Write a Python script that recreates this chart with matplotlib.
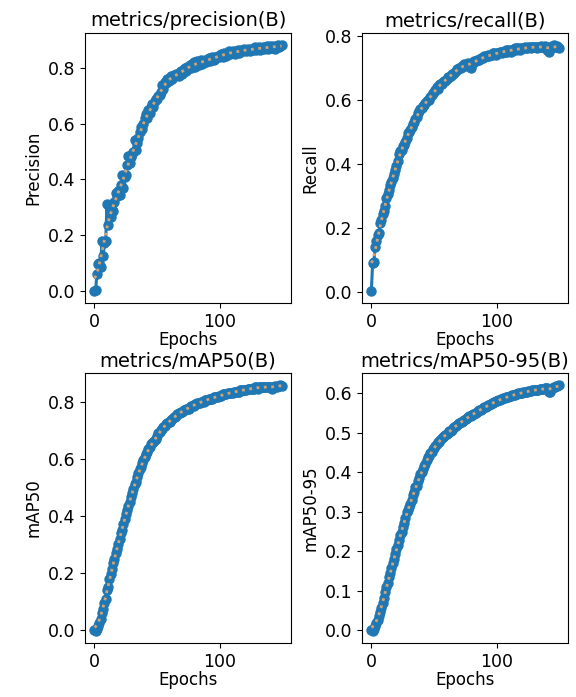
import numpy as np
import matplotlib
matplotlib.use('Agg')
import matplotlib.pyplot as plt

# Adatok, epoch 0..149
epochs = list(range(150))

precision = [
    0.000, 0.002, 0.060, 0.095, 0.100, 0.085, 0.180, 0.125, 0.170, 0.180,
    0.310, 0.235, 0.305, 0.265, 0.290, 0.285, 0.320, 0.350, 0.340, 0.360,
    0.345, 0.380, 0.415, 0.370, 0.410, 0.415, 0.450, 0.485, 0.460, 0.480,
    0.490, 0.500, 0.540, 0.505, 0.530, 0.550, 0.570, 0.590, 0.580, 0.600,
    0.620, 0.635, 0.620, 0.650, 0.640, 0.660, 0.670, 0.660, 0.680, 0.690,
    0.690, 0.700, 0.705, 0.715, 0.740, 0.725, 0.750, 0.745, 0.760, 0.755,
    0.765, 0.770, 0.760, 0.775, 0.770, 0.780, 0.775, 0.770, 0.785, 0.790,
    0.780, 0.795, 0.800, 0.790, 0.805, 0.800, 0.810, 0.800, 0.815, 0.820,
    0.805, 0.815, 0.825, 0.810, 0.820, 0.830, 0.815, 0.825, 0.830, 0.820,
    0.830, 0.835, 0.825, 0.835, 0.840, 0.830, 0.840, 0.835, 0.845, 0.840,
    0.845, 0.850, 0.840, 0.855, 0.850, 0.845, 0.855, 0.860, 0.850, 0.855,
    0.860, 0.855, 0.850, 0.860, 0.865, 0.855, 0.860, 0.865, 0.860, 0.870,
    0.865, 0.860, 0.870, 0.865, 0.860, 0.870, 0.865, 0.870, 0.875, 0.865,
    0.870, 0.875, 0.865, 0.870, 0.875, 0.870, 0.875, 0.878, 0.870, 0.875,
    0.878, 0.872, 0.880, 0.876, 0.870, 0.878, 0.882, 0.876, 0.880, 0.882,
]

recall = [
    0.005, 0.090, 0.095, 0.140, 0.160, 0.180, 0.185, 0.215, 0.225, 0.245,
    0.255, 0.270, 0.295, 0.305, 0.320, 0.335, 0.345, 0.355, 0.370, 0.380,
    0.395, 0.410, 0.430, 0.440, 0.445, 0.455, 0.460, 0.470, 0.480, 0.495,
    0.500, 0.505, 0.515, 0.525, 0.530, 0.540, 0.545, 0.560, 0.565, 0.570,
    0.575, 0.580, 0.585, 0.590, 0.595, 0.600, 0.600, 0.610, 0.615, 0.620,
    0.625, 0.630, 0.640, 0.635, 0.645, 0.650, 0.650, 0.655, 0.660, 0.660,
    0.665, 0.670, 0.670, 0.675, 0.680, 0.680, 0.685, 0.690, 0.695, 0.695,
    0.700, 0.700, 0.705, 0.705, 0.710, 0.705, 0.710, 0.715, 0.710, 0.700,
    0.715, 0.715, 0.720, 0.720, 0.725, 0.725, 0.725, 0.730, 0.730, 0.730,
    0.735, 0.735, 0.735, 0.740, 0.735, 0.740, 0.740, 0.745, 0.745, 0.740,
    0.745, 0.745, 0.750, 0.750, 0.745, 0.750, 0.750, 0.755, 0.750, 0.755,
    0.755, 0.750, 0.755, 0.755, 0.760, 0.755, 0.760, 0.760, 0.755, 0.760,
    0.760, 0.760, 0.765, 0.760, 0.760, 0.765, 0.765, 0.760, 0.765, 0.765,
    0.765, 0.765, 0.760, 0.765, 0.765, 0.768, 0.765, 0.765, 0.768, 0.765,
    0.755, 0.750, 0.760, 0.765, 0.768, 0.770, 0.765, 0.765, 0.768, 0.762,
]

map50 = [
    0.000, -0.002, 0.005, 0.015, 0.025, 0.040, 0.060, 0.075, 0.095, 0.110,
    0.140, 0.150, 0.180, 0.195, 0.215, 0.235, 0.250, 0.270, 0.285, 0.300,
    0.320, 0.340, 0.350, 0.370, 0.390, 0.405, 0.420, 0.435, 0.450, 0.465,
    0.480, 0.495, 0.510, 0.520, 0.535, 0.550, 0.565, 0.570, 0.585, 0.595,
    0.605, 0.615, 0.625, 0.635, 0.640, 0.650, 0.655, 0.660, 0.665, 0.670,
    0.680, 0.690, 0.695, 0.700, 0.705, 0.710, 0.715, 0.720, 0.725, 0.730,
    0.730, 0.735, 0.740, 0.745, 0.745, 0.750, 0.755, 0.760, 0.760, 0.765,
    0.765, 0.770, 0.770, 0.775, 0.775, 0.775, 0.780, 0.785, 0.785, 0.785,
    0.790, 0.790, 0.795, 0.795, 0.795, 0.800, 0.800, 0.800, 0.805, 0.805,
    0.805, 0.810, 0.810, 0.810, 0.810, 0.815, 0.815, 0.815, 0.815, 0.820,
    0.820, 0.820, 0.825, 0.825, 0.825, 0.825, 0.830, 0.830, 0.830, 0.830,
    0.830, 0.835, 0.835, 0.835, 0.835, 0.835, 0.840, 0.840, 0.840, 0.840,
    0.840, 0.840, 0.845, 0.845, 0.845, 0.845, 0.845, 0.845, 0.850, 0.850,
    0.845, 0.850, 0.850, 0.850, 0.850, 0.850, 0.850, 0.852, 0.850, 0.852,
    0.852, 0.845, 0.850, 0.852, 0.855, 0.852, 0.855, 0.855, 0.857, 0.856,
]

map50_95 = [
    0.000, -0.002, 0.003, 0.010, 0.018, 0.026, 0.035, 0.045, 0.055, 0.068,
    0.082, 0.095, 0.108, 0.120, 0.135, 0.145, 0.158, 0.170, 0.180, 0.192,
    0.205, 0.215, 0.228, 0.240, 0.248, 0.262, 0.272, 0.285, 0.298, 0.305,
    0.312, 0.320, 0.330, 0.342, 0.350, 0.362, 0.366, 0.378, 0.385, 0.395,
    0.400, 0.408, 0.415, 0.422, 0.430, 0.438, 0.442, 0.448, 0.452, 0.458,
    0.462, 0.468, 0.472, 0.476, 0.478, 0.482, 0.486, 0.490, 0.492, 0.495,
    0.497, 0.500, 0.504, 0.506, 0.508, 0.512, 0.515, 0.518, 0.520, 0.522,
    0.524, 0.527, 0.528, 0.530, 0.533, 0.536, 0.538, 0.540, 0.542, 0.544,
    0.546, 0.548, 0.549, 0.551, 0.554, 0.556, 0.558, 0.559, 0.561, 0.563,
    0.565, 0.566, 0.568, 0.570, 0.572, 0.573, 0.575, 0.577, 0.578, 0.580,
    0.581, 0.583, 0.584, 0.585, 0.586, 0.588, 0.589, 0.590, 0.591, 0.592,
    0.593, 0.594, 0.595, 0.596, 0.597, 0.598, 0.599, 0.600, 0.600, 0.601,
    0.602, 0.603, 0.603, 0.604, 0.605, 0.606, 0.606, 0.607, 0.608, 0.608,
    0.609, 0.609, 0.610, 0.610, 0.611, 0.611, 0.612, 0.612, 0.613, 0.613,
    0.614, 0.605, 0.604, 0.612, 0.615, 0.616, 0.617, 0.618, 0.620, 0.621,
]

titles = ['metrics/precision(B)', 'metrics/recall(B)', 'metrics/mAP50(B)', 'metrics/mAP50-95(B)']
ylabels = ['Precision', 'Recall', 'mAP50', 'mAP50-95']
series = [precision, recall, map50, map50_95]


def gauss_smooth(y, sigma=3):
    # egyszerű gauss simítás (mint a scipy gaussian_filter1d, reflect módban)
    r = int(4 * sigma + 0.5)
    k = np.exp(-0.5 * (np.arange(-r, r + 1) / sigma) ** 2)
    k /= k.sum()
    yp = np.pad(np.asarray(y, dtype=float), r, mode='symmetric')
    return np.convolve(yp, k, mode='valid')


fig, axes = plt.subplots(2, 2, figsize=(5.76, 6.97), dpi=100)
fig.subplots_adjust(left=0.1476, right=0.986, top=0.9527, bottom=0.0775,
                    wspace=0.345, hspace=0.259)

for ax, y, t, yl in zip(axes.flat, series, titles, ylabels):
    ax.plot(epochs, y, marker='o', markersize=6.5, linewidth=2.2, color='#1f77b4')
    ax.plot(epochs, gauss_smooth(y), ':', linewidth=2, color='#d4a373')
    ax.set_title(t, fontsize=14, pad=5)
    ax.set_xlabel('Epochs', fontsize=12, labelpad=0)
    ax.set_ylabel(yl, fontsize=12)
    ax.tick_params(labelsize=12.5)
    ax.set_xticks([0, 100])

fig.savefig('out.png', dpi=100)
